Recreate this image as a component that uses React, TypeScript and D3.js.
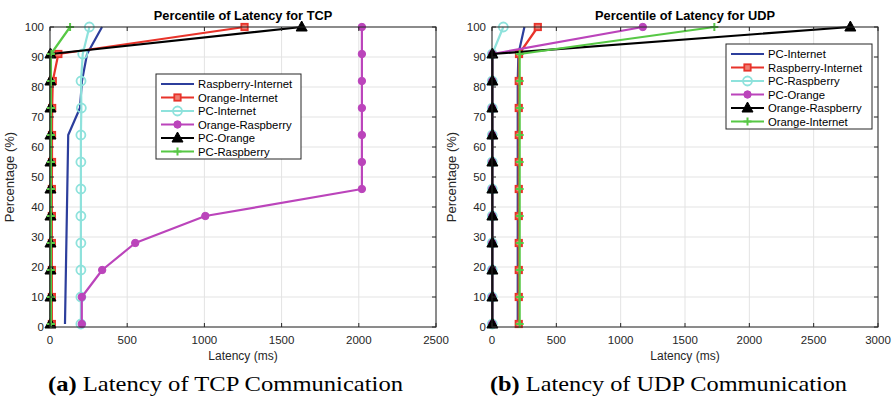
import React from "react";
import * as d3 from "d3";

const percentiles = [1, 10, 19, 28, 37, 46, 55, 64, 73, 82, 91, 100];

// TCP series (latency ms per percentile)
const tcpRaspberryInternet = [97, 100, 103, 106, 109, 112, 115, 118, 194, 207, 240, 337];
const tcpOrangeInternet = [12, 12, 12, 12, 12, 12, 13, 13, 14, 18, 54, 1260];
const tcpPCInternet = [200, 200, 200, 200, 200, 200, 200, 200, 203, 201, 212, 255];
const tcpOrangeRaspberry = [206, 206, 338, 552, 1006, 2020, 2020, 2020, 2020, 2020, 2020, 2020];
const tcpPCOrange = [3, 3, 3, 3, 3, 3, 3, 3, 3, 3, 3, 1630];
const tcpPCRaspberry = [6, 6, 6, 6, 6, 6, 6, 6, 6, 6, 6, 130];

// UDP series
const udpPCInternet = [200, 200, 200, 200, 200, 200, 200, 200, 200, 200, 205, 252];
const udpRaspberryInternet = [208, 208, 208, 208, 208, 208, 208, 208, 208, 208, 210, 356];
const udpPCRaspberry = [2, 2, 2, 2, 2, 2, 2, 2, 2, 2, 2, 88];
const udpPCOrange = [2, 2, 2, 2, 2, 2, 2, 2, 2, 2, 2, 1172];
const udpOrangeRaspberry = [3, 3, 3, 3, 3, 3, 3, 3, 3, 3, 3, 2785];
const udpOrangeInternet = [215, 215, 215, 215, 215, 215, 215, 215, 215, 215, 215, 1728];

const yTicks = [0, 10, 20, 30, 40, 50, 60, 70, 80, 90, 100];
const tcpXTicks = [0, 500, 1000, 1500, 2000, 2500];
const udpXTicks = [0, 500, 1000, 1500, 2000, 2500, 3000];

type Marker = "none" | "square" | "circleOpen" | "circleFilled" | "triangle" | "plus";
type Series = { name: string; values: number[]; color: string; marker: Marker };

const BLUE = "#2c3e9c";
const RED = "#e8332a";
const CYAN = "#8ee2dc";
const MAGENTA = "#bb44bb";
const BLACK = "#000000";
const GREEN = "#57c845";

const tcpSeries: Series[] = [
  { name: "Raspberry-Internet", values: tcpRaspberryInternet, color: BLUE, marker: "none" },
  { name: "Orange-Internet", values: tcpOrangeInternet, color: RED, marker: "square" },
  { name: "PC-Internet", values: tcpPCInternet, color: CYAN, marker: "circleOpen" },
  { name: "Orange-Raspberry", values: tcpOrangeRaspberry, color: MAGENTA, marker: "circleFilled" },
  { name: "PC-Orange", values: tcpPCOrange, color: BLACK, marker: "triangle" },
  { name: "PC-Raspberry", values: tcpPCRaspberry, color: GREEN, marker: "plus" },
];

const udpSeries: Series[] = [
  { name: "PC-Internet", values: udpPCInternet, color: BLUE, marker: "none" },
  { name: "Raspberry-Internet", values: udpRaspberryInternet, color: RED, marker: "square" },
  { name: "PC-Raspberry", values: udpPCRaspberry, color: CYAN, marker: "circleOpen" },
  { name: "PC-Orange", values: udpPCOrange, color: MAGENTA, marker: "circleFilled" },
  { name: "Orange-Raspberry", values: udpOrangeRaspberry, color: BLACK, marker: "triangle" },
  { name: "Orange-Internet", values: udpOrangeInternet, color: GREEN, marker: "plus" },
];

const FONT = "'Liberation Sans', Arial, sans-serif";
const SERIF = "'Liberation Serif', 'DejaVu Serif', serif";

function MarkerShape({ type, x, y, color }: { type: Marker; x: number; y: number; color: string }) {
  switch (type) {
    case "square":
      return <rect x={x - 3.2} y={y - 3.2} width={6.4} height={6.4} fill="#ef7d72" stroke={color} strokeWidth={1.8} />;
    case "circleOpen":
      return <circle cx={x} cy={y} r={4.5} fill="none" stroke={color} strokeWidth={1.8} />;
    case "circleFilled":
      return <circle cx={x} cy={y} r={3.7} fill={color} stroke={color} strokeWidth={1} />;
    case "triangle":
      return (
        <path
          d={`M${x},${y - 6} L${x + 5.5},${y + 4} L${x - 5.5},${y + 4} Z`}
          fill={color}
          stroke={color}
          strokeWidth={1}
        />
      );
    case "plus":
      return (
        <path d={`M${x - 4},${y} H${x + 4} M${x},${y - 4} V${y + 4}`} stroke={color} strokeWidth={2} />
      );
    default:
      return null;
  }
}

function Panel({
  left,
  title,
  xMax,
  xTicks,
  series,
  legend,
}: {
  left: number;
  title: string;
  xMax: number;
  xTicks: number[];
  series: Series[];
  legend: { x: number; y: number; w: number };
}) {
  const top = 27;
  const bottom = 327;
  const width = 386;
  const x = d3.scaleLinear().domain([0, xMax]).range([left, left + width]);
  const y = d3.scaleLinear().domain([0, 100]).range([bottom, top]);
  const line = d3
    .line<number>()
    .x((d) => x(d))
    .y((_, i) => y(percentiles[i]));
  const cx = left + width / 2;
  return (
    <g>
      {/* grid */}
      {xTicks.map((t) => (
        <line key={"gx" + t} x1={x(t)} x2={x(t)} y1={top} y2={bottom} stroke="#e3e3e3" strokeWidth={1} />
      ))}
      {yTicks.map((t) => (
        <line key={"gy" + t} x1={left} x2={left + width} y1={y(t)} y2={y(t)} stroke="#e3e3e3" strokeWidth={1} />
      ))}
      {/* series */}
      {series.map((s) => (
        <g key={s.name}>
          <path d={line(s.values) || ""} fill="none" stroke={s.color} strokeWidth={2.2} strokeLinejoin="round" />
          {s.values.map((v, i) => (
            <MarkerShape key={i} type={s.marker} x={x(v)} y={y(percentiles[i])} color={s.color} />
          ))}
        </g>
      ))}
      {/* box */}
      <rect x={left} y={top} width={width} height={bottom - top} fill="none" stroke="#262626" strokeWidth={1} />
      {/* ticks */}
      {xTicks.map((t) => (
        <g key={"tx" + t}>
          <line x1={x(t)} x2={x(t)} y1={bottom} y2={bottom - 4} stroke="#262626" />
          <line x1={x(t)} x2={x(t)} y1={top} y2={top + 4} stroke="#262626" />
          <text x={x(t)} y={bottom + 17} textAnchor="middle" fontSize={11.5} fontFamily={FONT} fill="#262626">
            {t}
          </text>
        </g>
      ))}
      {yTicks.map((t) => (
        <g key={"ty" + t}>
          <line x1={left} x2={left + 4} y1={y(t)} y2={y(t)} stroke="#262626" />
          <line x1={left + width} x2={left + width - 4} y1={y(t)} y2={y(t)} stroke="#262626" />
          <text x={left - 6} y={y(t) + 4} textAnchor="end" fontSize={11.5} fontFamily={FONT} fill="#262626">
            {t}
          </text>
        </g>
      ))}
      {/* labels */}
      <text x={cx} y={20} textAnchor="middle" fontSize={12.8} fontWeight="bold" fontFamily={FONT} fill="#000">
        {title}
      </text>
      <text x={cx} y={360} textAnchor="middle" fontSize={12} fontFamily={FONT} fill="#262626">
        Latency (ms)
      </text>
      <text
        transform={`translate(${left - 36},${(top + bottom) / 2}) rotate(-90)`}
        textAnchor="middle"
        fontSize={13}
        fontFamily={FONT}
        fill="#262626"
      >
        Percentage (%)
      </text>
      {/* legend */}
      <g>
        <rect x={legend.x} y={legend.y} width={legend.w} height={85} fill="#fff" stroke="#262626" strokeWidth={1} />
        {series.map((s, i) => {
          const ly = legend.y + 10 + i * 13.5;
          const lx1 = legend.x + 5;
          const lx2 = legend.x + 38;
          return (
            <g key={"lg" + s.name}>
              <line x1={lx1} x2={lx2} y1={ly} y2={ly} stroke={s.color} strokeWidth={2.2} />
              <MarkerShape type={s.marker} x={(lx1 + lx2) / 2} y={ly} color={s.color} />
              <text x={legend.x + 42} y={ly + 4} fontSize={11.3} fontFamily={FONT} fill="#000">
                {s.name}
              </text>
            </g>
          );
        })}
      </g>
    </g>
  );
}

export default function App() {
  return (
    <svg
      width={894}
      height={397}
      style={{ position: "absolute", left: 0, top: 0, background: "#fff" }}
      xmlns="http://www.w3.org/2000/svg"
    >
      <rect width={894} height={397} fill="#fff" />
      <Panel
        left={50}
        title="Percentile of Latency for TCP"
        xMax={2500}
        xTicks={tcpXTicks}
        series={tcpSeries}
        legend={{ x: 156, y: 74, w: 145 }}
      />
      <Panel
        left={492}
        title="Percentile of Latency for UDP"
        xMax={3000}
        xTicks={udpXTicks}
        series={udpSeries}
        legend={{ x: 726, y: 44, w: 146 }}
      />
      <text x={48} y={391} fontSize={21} fontFamily={SERIF} fill="#000" textLength={355} lengthAdjust="spacingAndGlyphs">
        <tspan fontWeight="bold">(a)</tspan> Latency of TCP Communication
      </text>
      <text x={490} y={391} fontSize={21} fontFamily={SERIF} fill="#000" textLength={357} lengthAdjust="spacingAndGlyphs">
        <tspan fontWeight="bold">(b)</tspan> Latency of UDP Communication
      </text>
    </svg>
  );
}
